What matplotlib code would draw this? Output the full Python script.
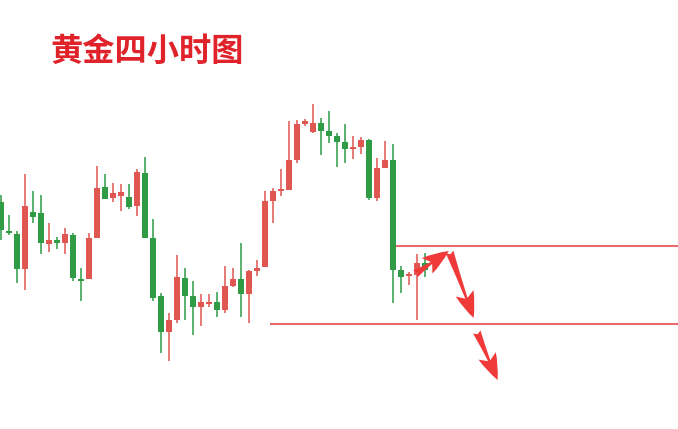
import numpy as np
import matplotlib
matplotlib.use("Agg")
import matplotlib.pyplot as plt
from matplotlib.patches import FancyArrowPatch

plt.rcParams['font.family'] = ['Noto Sans CJK SC', 'DejaVu Sans']

# 4h gold candles, price in chart units (higher = up)
opens = [227, 198, 195, 160, 217, 216, 185, 189, 186, 194,
         150, 150, 191, 242, 231, 233, 232, 223, 256, 191,
         133, 97, 109, 151, 133, 122, 126, 127, 119, 143,
         150, 135, 158, 162, 228, 239, 239, 269, 305, 297,
         306, 298, 293, 287, 281, 282, 289, 231, 261, 269,
         159, 154, 154, 166]
highs = [234, 214, 198, 255, 238, 234, 206, 192, 201, 196,
         161, 196, 263, 255, 246, 245, 245, 260, 272, 210,
         136, 116, 174, 161, 148, 135, 135, 137, 163, 161,
         186, 159, 169, 238, 241, 260, 308, 309, 310, 325,
         311, 318, 296, 305, 293, 292, 290, 271, 288, 285,
         163, 157, 175, 176]
lows = [189, 194, 146, 139, 206, 175, 177, 180, 175, 148,
        128, 150, 191, 230, 227, 218, 220, 213, 191, 128,
        76, 68, 106, 109, 94, 103, 122, 112, 116, 142,
        112, 106, 153, 162, 206, 233, 239, 266, 303, 296,
        274, 286, 262, 266, 270, 275, 229, 228, 261, 126,
        136, 144, 109, 152]
closes = [199, 196, 160, 223, 212, 186, 189, 186, 195, 151,
          149, 191, 241, 230, 236, 237, 222, 257, 191, 131,
          97, 109, 152, 133, 122, 127, 127, 119, 143, 150,
          135, 158, 161, 228, 238, 239, 269, 305, 308, 306,
          298, 293, 287, 280, 281, 289, 231, 261, 269, 159,
          152, 154, 166, 159]

levels = [183, 105]
level_start = [49.4, 33.7]

title = "黄金四小时图"

RED = "#e05650"
GREEN = "#2f9c45"

fig = plt.figure(figsize=(6.78, 4.29), dpi=100)
ax = fig.add_axes([0, 0, 1, 1])
ax.set_xlim(-0.1, 84.65)
ax.set_ylim(0, 429)
ax.axis("off")

o = np.array(opens, float)
h = np.array(highs, float)
l = np.array(lows, float)
c = np.array(closes, float)
idx = np.arange(len(o))
up = c >= o
cols = np.where(up, RED, GREEN)

ax.vlines(idx, l, h, colors=cols, linewidth=1.1, zorder=2)
body_lo = np.minimum(o, c)
body_h = np.maximum(np.abs(c - o), 1.3)
ax.bar(idx, body_h, bottom=body_lo - np.where(np.abs(c - o) < 1.3, 0.65, 0),
       width=0.72, color=cols, linewidth=0, zorder=3)

for lv, xs in zip(levels, level_start):
    ax.hlines(lv, xs, 84.65, colors="#e86a6a", linewidth=1.5, zorder=2)

# hand-drawn trade arrows
arrows = [((51.8, 155), (56.0, 178)),
          ((56.1, 177), (59.1, 111)),
          ((59.5, 97), (62.1, 49))]
for (x0, y0), (x1, y1) in arrows:
    ax.add_patch(FancyArrowPatch((x0, y0), (x1, y1),
                                 arrowstyle="fancy,head_length=1.05,head_width=0.75,tail_width=0.32",
                                 mutation_scale=18, color="#f03a3a", linewidth=0,
                                 shrinkA=0, shrinkB=0, zorder=4))

fig.text(0.075, 0.879, title, color="#e0232b", fontsize=23.2, fontweight="bold",
         va="center", ha="left")

fig.savefig("out.png", dpi=100, facecolor="white")
